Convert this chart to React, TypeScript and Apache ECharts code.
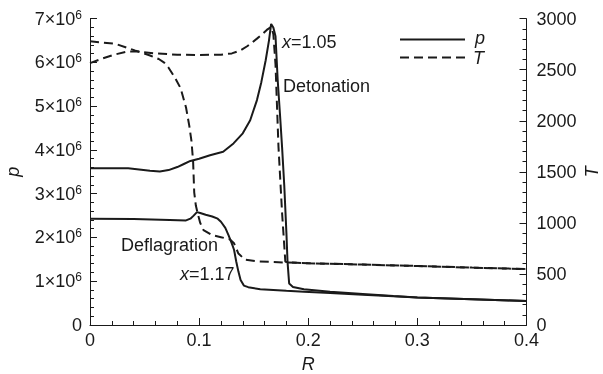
import React, { useEffect, useRef } from "react";
import * as echarts from "echarts";

// Detonation case (x = 1.05): pressure
const rDetP = [0, 0.02, 0.035, 0.045, 0.055, 0.064, 0.072, 0.08, 0.086, 0.092, 0.1, 0.11, 0.122, 0.1315, 0.14, 0.1468, 0.153, 0.157, 0.161, 0.164, 0.166, 0.168, 0.17, 0.172, 0.174, 0.176, 0.178, 0.18, 0.181, 0.1825, 0.186, 0.196, 0.22, 0.25, 0.278, 0.3, 0.35, 0.4];
const pDet = [3.58e6, 3.58e6, 3.58e6, 3.555e6, 3.525e6, 3.51e6, 3.54e6, 3.61e6, 3.68e6, 3.75e6, 3.8e6, 3.88e6, 3.96e6, 4.15e6, 4.38e6, 4.68e6, 5.14e6, 5.55e6, 6.05e6, 6.5e6, 6.88e6, 6.8e6, 6.6e6, 5.6e6, 4.85e6, 4.07e6, 3.2e6, 2.1e6, 1.45e6, 0.95e6, 0.87e6, 0.815e6, 0.76e6, 0.71e6, 0.66e6, 0.63e6, 0.59e6, 0.55e6];

// Deflagration case (x = 1.17): pressure
const rDefP = [0, 0.04, 0.073, 0.088, 0.092, 0.095, 0.098, 0.101, 0.106, 0.112, 0.117, 0.12, 0.124, 0.127, 0.13, 0.132, 0.134, 0.136, 0.138, 0.141, 0.145, 0.156, 0.18, 0.196, 0.22, 0.25, 0.278, 0.3, 0.35, 0.4];
const pDef = [2.43e6, 2.42e6, 2.4e6, 2.39e6, 2.43e6, 2.5e6, 2.58e6, 2.56e6, 2.52e6, 2.48e6, 2.43e6, 2.36e6, 2.22e6, 2.05e6, 1.86e6, 1.72e6, 1.45e6, 1.22e6, 1.03e6, 0.9e6, 0.865e6, 0.815e6, 0.78e6, 0.76e6, 0.73e6, 0.69e6, 0.655e6, 0.63e6, 0.59e6, 0.548e6];

// Detonation case: temperature
const rDetT = [0, 0.012, 0.023, 0.035, 0.045, 0.06, 0.08, 0.1, 0.12, 0.13, 0.138, 0.144, 0.148, 0.153, 0.157, 0.162, 0.166, 0.168, 0.17, 0.1727, 0.176, 0.179, 0.185, 0.2, 0.25, 0.3, 0.35, 0.4];
const tDet = [2565, 2612, 2650, 2680, 2678, 2660, 2647, 2645, 2648, 2660, 2690, 2730, 2762, 2805, 2840, 2890, 2920, 2850, 2550, 1750, 1100, 620, 612, 605, 592, 578, 562, 548];

// Deflagration case: temperature
const rDefT = [0, 0.023, 0.041, 0.055, 0.063, 0.068, 0.072, 0.078, 0.083, 0.088, 0.091, 0.093, 0.0945, 0.0955, 0.097, 0.099, 0.101, 0.104, 0.112, 0.12, 0.128, 0.132, 0.136, 0.142, 0.155, 0.18, 0.2, 0.25, 0.3, 0.35, 0.4];
const tDef = [2778, 2755, 2690, 2640, 2605, 2570, 2520, 2420, 2320, 2130, 1950, 1800, 1600, 1300, 1170, 1080, 1000, 930, 880, 860, 840, 800, 700, 640, 622, 612, 605, 592, 578, 562, 548];

const xTicks = { min: 0, max: 0.4, interval: 0.1 };
const pTicks = { min: 0, max: 7e6, interval: 1e6 };
const tTicks = { min: 0, max: 3000, interval: 500 };
const legendNames = ["p", "T"];

const zip = (xs: number[], ys: number[]) => xs.map((x, i) => [x, ys[i]]);

const FONT = "'Liberation Sans', Arial, sans-serif";
const INK = "#1a1a1a";
const DASH = [9, 5];

export default function App() {
  const ref = useRef<HTMLDivElement>(null);
  useEffect(() => {
    if (!ref.current) return;
    const chart = echarts.init(ref.current, undefined, { renderer: "svg" });
    const axisCommon = {
      axisLine: { show: true, lineStyle: { color: INK, width: 1 } },
      axisTick: { show: true, inside: true, length: 7, lineStyle: { color: INK } },
      minorTick: { show: true, splitNumber: 5, length: 4, lineStyle: { color: INK } },
      splitLine: { show: false },
      minorSplitLine: { show: false },
      nameMoveOverlap: false,
    };
    const nameStyle = { fontSize: 18, lineHeight: 18, fontStyle: "italic", color: INK, fontFamily: FONT };
    const lineBase = { type: "line", symbol: "none", showSymbol: false, smooth: false };
    const richItalic = {
      i: { fontSize: 18, fontStyle: "italic", fontFamily: FONT, fill: INK },
      n: { fontSize: 18, fontFamily: FONT, fill: INK },
    };
    chart.setOption({
      animation: false,
      textStyle: { fontFamily: FONT, color: INK },
      grid: { left: 90, right: 76.5, top: 18.7, bottom: 49, containLabel: false, outerBoundsMode: "none" },
      xAxis: {
        type: "value",
        ...xTicks,
        ...axisCommon,
        name: "R",
        nameLocation: "middle",
        nameGap: 30,
        nameTextStyle: nameStyle,
        axisLabel: {
          fontSize: 18,
          color: INK,
          margin: 6,
          showMinLabel: true,
          showMaxLabel: true,
          formatter: (v: number) => (v === 0 ? "0" : String(Math.round(v * 10) / 10)),
        },
      },
      yAxis: [
        {
          type: "value",
          position: "left",
          ...pTicks,
          ...axisCommon,
          name: "p",
          nameLocation: "middle",
          nameRotate: 90,
          nameGap: 68,
          nameTextStyle: nameStyle,
          axisLabel: {
            margin: 8,
            showMinLabel: true,
            showMaxLabel: true,
            formatter: (v: number) => (v === 0 ? "{b|0}" : `{b|${Math.round(v / 1e6)}×10}{s|6}`),
            rich: {
              b: { fontSize: 18, color: INK, fontFamily: FONT, lineHeight: 20 },
              s: { fontSize: 12, color: INK, fontFamily: FONT, verticalAlign: "top", lineHeight: 14 },
            },
          },
        },
        {
          type: "value",
          position: "right",
          ...tTicks,
          ...axisCommon,
          name: "T",
          nameLocation: "middle",
          nameRotate: 90,
          nameGap: 56,
          nameTextStyle: nameStyle,
          axisLabel: {
            fontSize: 18,
            color: INK,
            margin: 10,
            showMinLabel: true,
            showMaxLabel: true,
            formatter: (v: number) => String(v),
          },
        },
      ],
      series: [
        { ...lineBase, name: "p", yAxisIndex: 0, data: zip(rDetP, pDet), lineStyle: { color: INK, width: 2 } },
        { ...lineBase, name: "p", yAxisIndex: 0, data: zip(rDefP, pDef), lineStyle: { color: INK, width: 2 } },
        { ...lineBase, name: "T", yAxisIndex: 1, data: zip(rDetT, tDet), lineStyle: { color: INK, width: 2, type: DASH } },
        { ...lineBase, name: "T", yAxisIndex: 1, data: zip(rDefT, tDef), lineStyle: { color: INK, width: 2, type: DASH } },
      ],
      color: [INK, INK, INK, INK],
      graphic: [
        // legend
        { type: "line", shape: { x1: 400, y1: 39.5, x2: 465, y2: 39.5 }, style: { stroke: INK, lineWidth: 2 } },
        { type: "line", shape: { x1: 400, y1: 57.5, x2: 465, y2: 57.5 }, style: { stroke: INK, lineWidth: 2, lineDash: DASH } },
        { type: "text", x: 475, y: 38, style: { text: legendNames[0], fontSize: 18, fontStyle: "italic", fontFamily: FONT, fill: INK, verticalAlign: "middle" } },
        { type: "text", x: 473, y: 58, style: { text: legendNames[1], fontSize: 18, fontStyle: "italic", fontFamily: FONT, fill: INK, verticalAlign: "middle" } },
        // annotations
        { type: "text", x: 282, y: 42, style: { text: "{i|x}{n|=1.05}", verticalAlign: "middle", rich: richItalic } },
        { type: "text", x: 283, y: 86, style: { text: "Detonation", fontSize: 18, fontFamily: FONT, fill: INK, verticalAlign: "middle" } },
        { type: "text", x: 121, y: 245, style: { text: "Deflagration", fontSize: 18, fontFamily: FONT, fill: INK, verticalAlign: "middle" } },
        { type: "text", x: 180, y: 274, style: { text: "{i|x}{n|=1.17}", verticalAlign: "middle", rich: richItalic } },
      ],
    });
    return () => chart.dispose();
  }, []);
  return <div ref={ref} style={{ position: "fixed", left: 0, top: 0, width: 603, height: 374 }} />;
}
